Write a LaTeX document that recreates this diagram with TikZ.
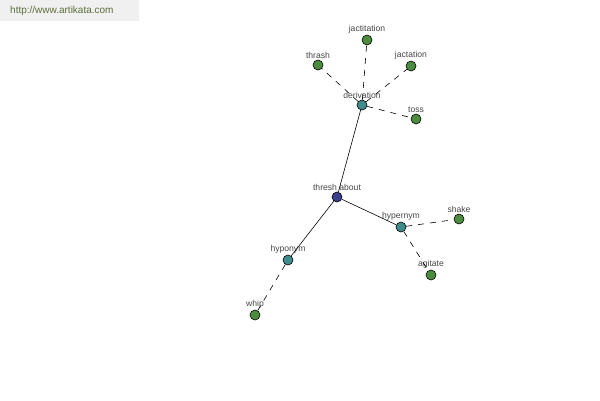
\documentclass[tikz,border=0pt]{standalone}
\usepackage{fontspec}
\setmainfont{Liberation Sans}
\usepackage{xcolor}
\usepackage{tikz}

\definecolor{leafgreen}{HTML}{4C8C3E}
\definecolor{relteal}{HTML}{3F8C8C}
\definecolor{rootblue}{HTML}{3C3F8A}
\definecolor{labelgray}{HTML}{484848}
\definecolor{markgreen}{HTML}{5A6E3A}

\tikzset{
  word/.style={circle, draw=black, line width=0.6pt, minimum size=10pt, inner sep=0pt},
  wlabel/.style={font=\fontsize{8.6}{9}\selectfont, text=labelgray, inner sep=1pt, label distance=0pt},
  loose/.style={dash pattern=on 6pt off 6pt, line width=0.6pt}
}

\begin{document}
\begin{tikzpicture}[x=1pt, y=-1pt, every label/.style={wlabel}]
  \useasboundingbox (0,0) rectangle (600,400);
  \fill[white] (0,0) rectangle (600,400);
  \fill[gray!12] (0,0) rectangle (139,21);
  \node[anchor=west, text=markgreen, font=\fontsize{10}{11}\selectfont, inner sep=0pt] (site) at (10,11) {http://www.artikata.com};

  % centre and relation nodes
  \node[word, fill=rootblue, label=above:{thresh about}] (thresh) at (337,197) {};
  \node[word, fill=relteal, label=above:{derivation}] (deriv) at (362,105) {};
  \node[word, fill=relteal, label=above:{hypernym}] (hyper) at (401,227) {};
  \node[word, fill=relteal, label=above:{hyponym}] (hypo) at (288,260) {};

  % leaves
  \node[word, fill=leafgreen, label=above:{jactitation}] (jactit) at (367,40) {};
  \node[word, fill=leafgreen, label=above:{thrash}] (thrash) at (318,65) {};
  \node[word, fill=leafgreen, label=above:{jactation}] (jactat) at (411,66) {};
  \node[word, fill=leafgreen, label=above:{toss}] (toss) at (416,119) {};
  \node[word, fill=leafgreen, label=above:{shake}] (shake) at (459,219) {};
  \node[word, fill=leafgreen, label=above:{agitate}] (agitate) at (431,275) {};
  \node[word, fill=leafgreen, label=above:{whip}] (whip) at (255,315) {};

  \draw[line width=0.6pt] (thresh) -- (deriv);
  \draw[line width=0.6pt] (thresh) -- (hyper);
  \draw[line width=0.6pt] (thresh) -- (hypo);

  \draw[loose] (deriv) -- (jactit);
  \draw[loose] (deriv) -- (thrash);
  \draw[loose] (deriv) -- (jactat);
  \draw[loose] (deriv) -- (toss);
  \draw[loose] (hyper) -- (shake);
  \draw[loose] (hyper) -- (agitate);
  \draw[loose] (hypo) -- (whip);
\end{tikzpicture}
\end{document}
